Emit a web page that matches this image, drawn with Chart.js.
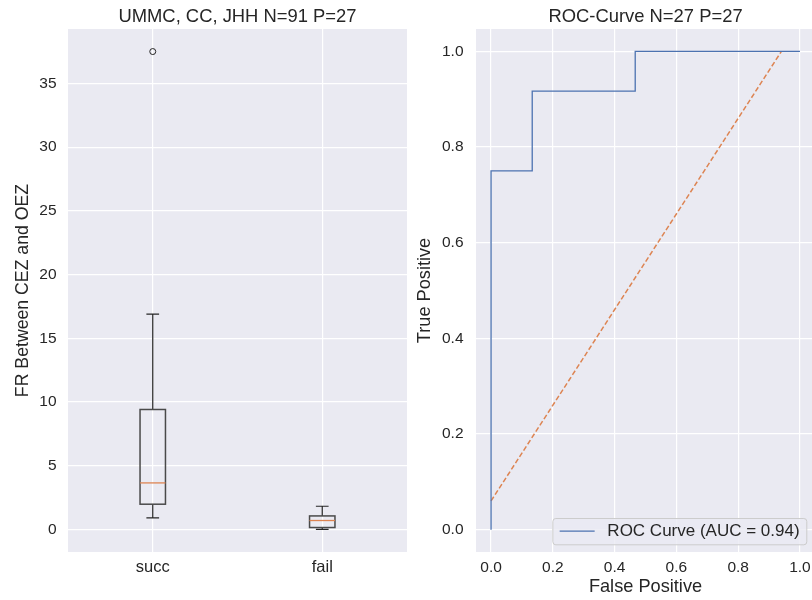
<!DOCTYPE html>
<html>
<head>
<meta charset="utf-8">
<script src="https://cdn.jsdelivr.net/npm/chart.js@4.4.1/dist/chart.umd.min.js"></script>
<style>
  html, body { margin: 0; padding: 0; width: 812px; height: 600px; overflow: hidden; background: #ffffff; }
  #left  { position: absolute; left: 0;     top: 0; width: 407px; height: 600px; }
  #right { position: absolute; left: 410px; top: 0; width: 405px; height: 600px; }
</style>
</head>
<body>
<div id="left"><canvas id="boxChart"></canvas></div>
<div id="right"><canvas id="rocChart"></canvas></div>
<script>
// ---- Box plot summary: FR between CEZ and OEZ, by outcome ----
const groups       = ['succ', 'fail'];
const whiskerLow   = [0.92, 0.02];
const quartile1    = [1.99, 0.16];
const medians      = [3.66, 0.71];
const quartile3    = [9.42, 1.07];
const whiskerHigh  = [16.9, 1.83];
const fliers       = [[37.5], []];
const frTicks      = [0, 5, 10, 15, 20, 25, 30, 35];

// ---- ROC curve ----
const fpr          = [0, 0, 0.1333, 0.1333, 0.4667, 0.4667, 1.0];
const tpr          = [0, 0.75, 0.75, 0.9167, 0.9167, 1.0, 1.0];
const chanceFpr    = [0, 0.94];
const chanceTpr    = [0.06, 1.0];
const auc          = 0.94;
const rateTicks    = [0, 0.2, 0.4, 0.6, 0.8, 1.0];

const FONT = "'Liberation Sans', Arial, Helvetica, sans-serif";
const INK = '#262626';
const PANEL = '#eaeaf2';
const TITLE_SIZE = 18.4;
const LABEL_SIZE = 18.2;
const TICK_SIZE = 15.5;
Chart.defaults.font.family = FONT;
Chart.defaults.color = INK;

// grey panel behind the grid
const panelBackground = {
  id: 'panelBackground',
  beforeDraw(chart) {
    const { ctx, chartArea: a } = chart;
    ctx.save();
    ctx.fillStyle = PANEL;
    ctx.fillRect(a.left, a.top, a.right - a.left, a.bottom - a.top);
    ctx.restore();
  }
};

// title centred over the plot area rather than the whole canvas
const panelTitle = {
  id: 'panelTitle',
  afterDraw(chart, args, opts) {
    const { ctx, chartArea: a } = chart;
    ctx.save();
    ctx.font = TITLE_SIZE + 'px ' + FONT;
    ctx.fillStyle = INK;
    ctx.textAlign = 'center';
    ctx.textBaseline = 'middle';
    ctx.fillText(opts.text, (a.left + a.right) / 2, opts.y);
    ctx.restore();
  }
};

// boxes, whiskers, caps and medians
const BOX_WIDTH = 0.15;
const CAP_WIDTH = 0.075;
const boxes = {
  id: 'boxes',
  afterDatasetsDraw(chart) {
    const { ctx, scales: { x, y } } = chart;
    ctx.save();
    groups.forEach((g, i) => {
      const pos = i + 1;
      const xc = x.getPixelForValue(pos);
      const xl = x.getPixelForValue(pos - BOX_WIDTH / 2);
      const xr = x.getPixelForValue(pos + BOX_WIDTH / 2);
      const cl = x.getPixelForValue(pos - CAP_WIDTH / 2);
      const cr = x.getPixelForValue(pos + CAP_WIDTH / 2);
      const yLo = y.getPixelForValue(whiskerLow[i]);
      const yQ1 = y.getPixelForValue(quartile1[i]);
      const yMd = y.getPixelForValue(medians[i]);
      const yQ3 = y.getPixelForValue(quartile3[i]);
      const yHi = y.getPixelForValue(whiskerHigh[i]);

      ctx.strokeStyle = INK;
      ctx.lineWidth = 1.2;
      ctx.beginPath();
      ctx.moveTo(xc, yQ3); ctx.lineTo(xc, yHi);
      ctx.moveTo(xc, yQ1); ctx.lineTo(xc, yLo);
      ctx.moveTo(cl, yHi); ctx.lineTo(cr, yHi);
      ctx.moveTo(cl, yLo); ctx.lineTo(cr, yLo);
      ctx.stroke();

      ctx.strokeStyle = '#4a4a4a';
      ctx.lineWidth = 1.5;
      ctx.strokeRect(xl, yQ3, xr - xl, yQ1 - yQ3);

      ctx.strokeStyle = '#dd8452';
      ctx.lineWidth = 1.3;
      ctx.beginPath();
      ctx.moveTo(xl, yMd); ctx.lineTo(xr, yMd);
      ctx.stroke();
    });
    ctx.restore();
  }
};

// legend box in the lower-right corner of the plot area
const cornerLegend = {
  id: 'cornerLegend',
  afterDraw(chart) {
    const ds = chart.data.datasets[0];
    const { ctx, chartArea: a } = chart;
    const fontSize = 17;
    ctx.save();
    ctx.font = fontSize + 'px ' + FONT;
    const tw = ctx.measureText(ds.label).width;
    const padL = 7.3, lineLen = 35, gap = 12.7, padR = 6.7, h = 26.3;
    const w = padL + lineLen + gap + tw + padR;
    const right = a.right - 8.7, bottom = a.bottom - 7.7;
    const left = right - w, top = bottom - h;
    ctx.beginPath();
    ctx.roundRect(left + 0.5, top + 0.5, w, h, 3);
    ctx.fillStyle = 'rgba(234,234,242,0.8)';
    ctx.fill();
    ctx.strokeStyle = '#cccccc';
    ctx.lineWidth = 1;
    ctx.stroke();
    const cy = top + h / 2;
    ctx.strokeStyle = ds.borderColor;
    ctx.lineWidth = ds.borderWidth;
    ctx.beginPath();
    ctx.moveTo(left + padL, cy); ctx.lineTo(left + padL + lineLen, cy);
    ctx.stroke();
    ctx.fillStyle = INK;
    ctx.textBaseline = 'middle';
    ctx.textAlign = 'left';
    ctx.fillText(ds.label, left + padL + lineLen + gap, cy + 0.5);
    ctx.restore();
  }
};

const gridStyle = { color: '#ffffff', lineWidth: 1.2, drawTicks: false };
const fixedLayout = { autoPadding: false, padding: { top: 29, left: 0, right: 0, bottom: 0 } };

// ---- left: box plot ----
new Chart(document.getElementById('boxChart'), {
  type: 'scatter',
  data: {
    datasets: [{
      label: 'fliers',
      data: fliers.flatMap((vals, i) => vals.map(v => ({ x: i + 1, y: v }))),
      pointStyle: 'circle',
      pointRadius: 3,
      borderColor: INK,
      borderWidth: 1,
      backgroundColor: 'rgba(0,0,0,0)'
    }]
  },
  options: {
    responsive: true,
    maintainAspectRatio: false,
    animation: false,
    events: [],
    layout: fixedLayout,
    plugins: {
      legend: { display: false },
      tooltip: { enabled: false },
      title: { display: false },
      panelTitle: { text: 'UMMC, CC, JHH N=91 P=27', y: 17 }
    },
    scales: {
      x: {
        type: 'linear',
        min: 0.5, max: 2.5,
        grid: gridStyle,
        border: { display: false },
        afterBuildTicks: s => { s.ticks = groups.map((g, i) => ({ value: i + 1 })); },
        ticks: { font: { size: 16.5 }, padding: 5.5, callback: v => groups[v - 1] },
        afterFit: s => { s.height = 48; s.paddingLeft = 0; s.paddingRight = 0; }
      },
      y: {
        type: 'linear',
        min: -1.76, max: 39.27,
        grid: gridStyle,
        border: { display: false },
        afterBuildTicks: s => { s.ticks = frTicks.map(v => ({ value: v })); },
        ticks: { font: { size: TICK_SIZE }, padding: 11.5 },
        title: {
          display: true,
          text: 'FR Between CEZ and OEZ',
          font: { size: 17.7 },
          padding: { top: 12.3, bottom: 0 }
        },
        afterFit: s => { s.width = 68; }
      }
    }
  },
  plugins: [panelBackground, boxes, panelTitle]
});

// ---- right: ROC curve ----
new Chart(document.getElementById('rocChart'), {
  type: 'scatter',
  data: {
    datasets: [
      {
        label: 'ROC Curve (AUC = ' + auc.toFixed(2) + ')',
        data: fpr.map((v, i) => ({ x: v, y: tpr[i] })),
        showLine: true,
        borderColor: '#4c72b0',
        borderWidth: 1.3,
        pointRadius: 0,
        fill: false
      },
      {
        label: 'chance',
        data: chanceFpr.map((v, i) => ({ x: v, y: chanceTpr[i] })),
        showLine: true,
        borderColor: '#dd8452',
        borderWidth: 1.5,
        borderDash: [5, 2.5],
        pointRadius: 0,
        fill: false
      }
    ]
  },
  options: {
    responsive: true,
    maintainAspectRatio: false,
    animation: false,
    events: [],
    layout: fixedLayout,
    plugins: {
      legend: { display: false },
      tooltip: { enabled: false },
      title: { display: false },
      panelTitle: { text: 'ROC-Curve N=27 P=27', y: 17 }
    },
    scales: {
      x: {
        type: 'linear',
        min: -0.0487, max: 1.0487,
        grid: gridStyle,
        border: { display: false },
        afterBuildTicks: s => { s.ticks = rateTicks.map(v => ({ value: v })); },
        ticks: { font: { size: TICK_SIZE }, padding: 6, callback: v => v.toFixed(1) },
        title: {
          display: true,
          text: 'False Positive',
          font: { size: LABEL_SIZE },
          padding: { top: 0, bottom: 2.3 }
        },
        afterFit: s => { s.height = 48; s.paddingLeft = 0; s.paddingRight = 0; }
      },
      y: {
        type: 'linear',
        min: -0.0467, max: 1.0467,
        grid: gridStyle,
        border: { display: false },
        afterBuildTicks: s => { s.ticks = rateTicks.map(v => ({ value: v })); },
        ticks: { font: { size: TICK_SIZE }, padding: 12.5, callback: v => v.toFixed(1) },
        title: {
          display: true,
          text: 'True Positive',
          font: { size: LABEL_SIZE },
          padding: { top: 4.5, bottom: 0 }
        },
        afterFit: s => { s.width = 66; }
      }
    }
  },
  plugins: [panelBackground, cornerLegend, panelTitle]
});
</script>
</body>
</html>
